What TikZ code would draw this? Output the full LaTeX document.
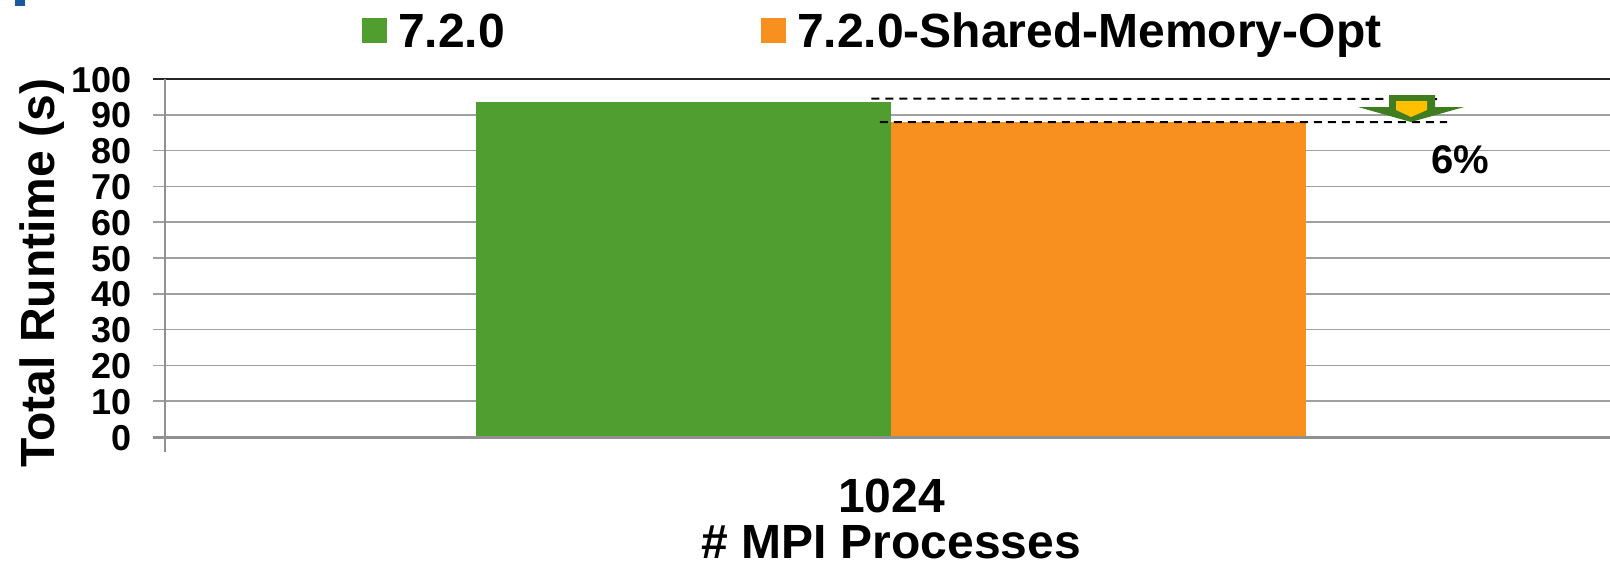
\documentclass[tikz,border=0pt]{standalone}
\usepackage{fontspec}
\setmainfont{Liberation Sans}
\usepackage{xcolor}
\usetikzlibrary{calc}
\definecolor{barGreen}{RGB}{80,158,47}
\definecolor{barOrange}{RGB}{247,144,30}
\definecolor{arrowGreen}{RGB}{64,125,32}
\definecolor{arrowYellow}{RGB}{255,192,0}
\definecolor{gridGray}{RGB}{160,160,160}
\definecolor{slideBlue}{RGB}{24,88,156}

\begin{document}
\begin{tikzpicture}[x=1pt, y=-1pt]
\tikzstyle{tick}    = [anchor=base east, font=\fontsize{36}{36}\bfseries, inner sep=0pt]
\tikzstyle{bigtext} = [font=\fontsize{48}{48}\bfseries, inner sep=0pt]
\tikzstyle{swatch}  = [minimum width=25pt, minimum height=25pt, inner sep=0pt, anchor=north west]
\tikzstyle{bar}     = [minimum width=415pt, inner sep=0pt, anchor=south west]
\tikzstyle{level}   = [black, line width=2pt, dash pattern=on 8pt off 6pt]
\useasboundingbox (0,0) rectangle (1610,565);
\fill[slideBlue] (15,0) rectangle (25,6);
 %%Grid
\foreach \v in {10,20,...,90}
  \draw[gridGray, line width=1.5pt] (153,437-3.58*\v) -- (1610,437-3.58*\v);
\draw[black!85, line width=1.8pt] (153,79) -- (1610,79);
\foreach \v in {0,10,...,100}
  \node[tick] (t\v) at (132,437-3.58*\v+13) {\v};
 %%Bars
\node[bar, fill=barGreen, minimum height=335pt](b1) at (476,437) {};
\node[bar, fill=barOrange, minimum height=314.5pt](b2) at ($(b1.south east) + (-0.5,0)$) {};
 %%Axes
\draw[gridGray!90!black, line width=3pt] (153,437) -- (1610,437);
\draw[gridGray!90!black, line width=2.5pt] (165,79) -- (165,452);
 %%Legend
\node[swatch, fill=barGreen](s1) at (362,18) {};
\node[bigtext, anchor=base west](l1) at (398,47) {7.2.0};
\node[swatch, fill=barOrange](s2) at (761,18) {};
\node[bigtext, anchor=base west](l2) at (797,47) {7.2.0-Shared-Memory-Opt};
 %%Axis labels
\node[bigtext, rotate=90, anchor=base](ylab) at (54,273) {Total Runtime (s)};
\node[bigtext, anchor=base](xtick) at ($(b1.south east) + (0,75)$) {1024};
\node[bigtext, anchor=base](xlab) at ($(xtick.base) + (0,46)$) {\# MPI Processes};
 %%Reduction marker
\coordinate (hi1) at ($(b1.north east) + (-20,-3)$);
\coordinate (hi2) at (1437,99);
\coordinate (lo1) at ($(b2.north west) + (-11,0)$);
\coordinate (lo2) at (1447,122);
\draw[level] (hi1) -- (hi2);
\draw[level] (lo1) -- (lo2);
\fill[arrowGreen] (1389,95) -- (1435,95) -- (1435,107) -- (1464,107) -- (1411,122)
  -- (1358,107) -- (1389,107) -- cycle;
\fill[arrowYellow] (1396,101) -- (1427,101) -- (1427,110) -- (1411,117) -- (1396,110) -- cycle;
\node[font=\fontsize{40}{40}\bfseries, inner sep=0pt](pct) at (1460,160) {6\%};
\end{tikzpicture}
\end{document}
